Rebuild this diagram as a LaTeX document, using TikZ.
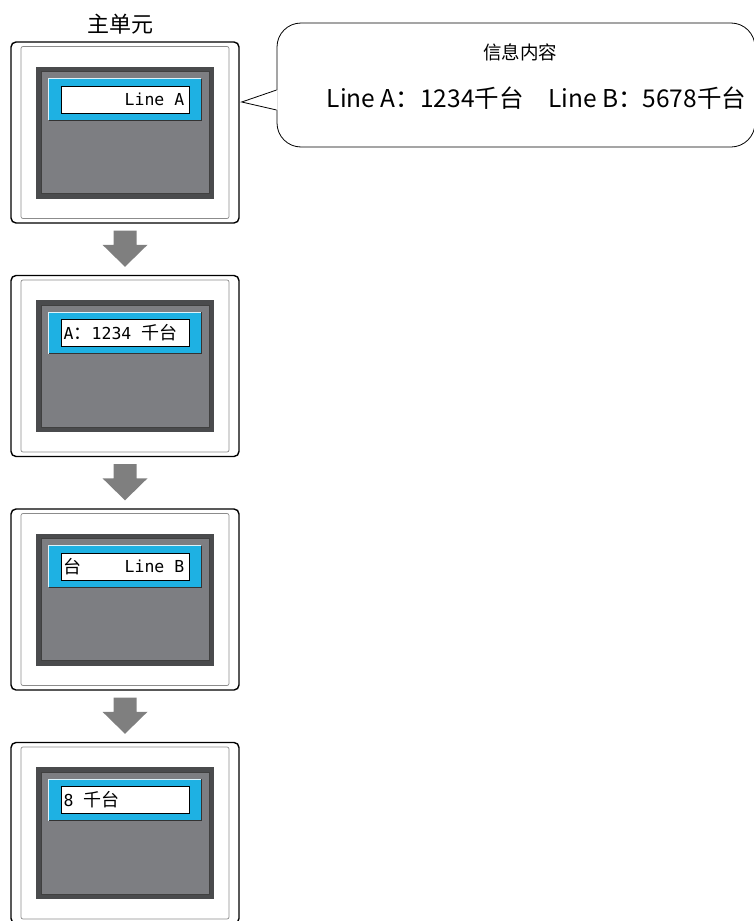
\documentclass[tikz,border=0pt]{standalone}
\usepackage{fontspec}
\setmainfont{Noto Sans CJK SC}
\newfontfamily\cjk{Noto Sans CJK SC}
\newfontfamily\lcdmono{DejaVu Sans Mono}
\usetikzlibrary{calc}
\definecolor{bezel-dark}{HTML}{4A4B4D}
\definecolor{screen-gray}{HTML}{7D7E82}
\definecolor{lcd-blue}{HTML}{1EB1E3}
\definecolor{arrow-gray}{HTML}{7F7F7F}
\definecolor{trim-gray}{HTML}{8C8C8C}

\tikzset{
  unitframe/.style={draw, line width=1.4pt, fill=white, rounded corners=5pt,
    minimum width=228pt, minimum height=181pt, inner sep=0pt},
  bezel/.style={draw=trim-gray, line width=0.7pt, rounded corners=2pt,
    minimum width=208pt, minimum height=172pt, inner sep=0pt},
  screen/.style={fill=bezel-dark, minimum width=178pt, minimum height=132pt, inner sep=0pt},
  screenface/.style={fill=screen-gray, draw=black!75, line width=0.7pt,
    minimum width=168pt, minimum height=122pt, inner sep=0pt},
  lcdbar/.style={fill=lcd-blue, minimum width=152pt, minimum height=41pt, inner sep=0pt},
  lcdbox/.style={fill=white, draw=black, line width=1pt,
    minimum width=128pt, minimum height=27pt, inner sep=0pt},
  lcdtext/.style={inner sep=0pt, font=\lcdmono\fontsize{16.5}{16.5}\selectfont},
  downarrow/.style={fill=arrow-gray},
}
\newcommand{\lcdcjk}[1]{{\cjk\fontsize{18}{18}\selectfont #1}}

\begin{document}
\begin{tikzpicture}[x=1pt, y=-1pt]
  \useasboundingbox (0,0) rectangle (753,921);

  % main unit, first state
  \node[font=\fontsize{22}{22}\selectfont] (title) at (120,24) {主单元};
  \node[unitframe] (u1) at (125,132.5) {};
  \node[bezel] (z1) at (u1.center) {};
  \node[screen] (s1) at (u1.center) {};
  \node[screenface] (f1) at (u1.center) {};
  \node[lcdbar] (b1) at ($(u1.center)+(0,-33)$) {};
  \node[lcdbox] (w1) at (b1.center) {};
  \node[lcdtext, anchor=east] (t1) at ($(w1.east)+(-5,0)$) {Line A};

  \node[unitframe] (u2) at (125,366) {};
  \node[bezel] (z2) at (u2.center) {};
  \node[screen] (s2) at (u2.center) {};
  \node[screenface] (f2) at (u2.center) {};
  \node[lcdbar] (b2) at ($(u2.center)+(0,-33)$) {};
  \node[lcdbox] (w2) at (b2.center) {};
  \node[lcdtext, anchor=west] (t2) at ($(w2.west)+(3,0)$) {A\lcdcjk{：}1234 \lcdcjk{千台}};

  \node[unitframe] (u3) at (125,599.5) {};
  \node[bezel] (z3) at (u3.center) {};
  \node[screen] (s3) at (u3.center) {};
  \node[screenface] (f3) at (u3.center) {};
  \node[lcdbar] (b3) at ($(u3.center)+(0,-33)$) {};
  \node[lcdbox] (w3) at (b3.center) {};
  \node[lcdtext, anchor=west] (t3a) at ($(w3.west)+(3,0)$) {\lcdcjk{台}};
  \node[lcdtext, anchor=east] (t3b) at ($(w3.east)+(-5,0)$) {Line B};

  \node[unitframe] (u4) at (125,833) {};
  \node[bezel] (z4) at (u4.center) {};
  \node[screen] (s4) at (u4.center) {};
  \node[screenface] (f4) at (u4.center) {};
  \node[lcdbar] (b4) at ($(u4.center)+(0,-33)$) {};
  \node[lcdbox] (w4) at (b4.center) {};
  \node[lcdtext, anchor=west] (t4) at ($(w4.west)+(3,0)$) {8 \lcdcjk{千台}};

  % bevel on the blue bars
  \foreach \b in {b1,b2,b3,b4} {
    \draw[white!85!lcd-blue, line width=1pt] (\b.south west) |- (\b.north east);
    \draw[black!80, line width=1.2pt] (\b.south west) -| (\b.north east);
  }

  % block arrows between the states
  \foreach \a/\b in {u1/u2, u2/u3, u3/u4} {
    \fill[downarrow] ($(\a.south)+(-11.5,7)$) -- ($(\a.south)+(11.5,7)$)
      -- ($(\b.north)+(11.5,-30)$) -- ($(\b.north)+(22.5,-30)$)
      -- ($(\b.north)+(0,-8)$) -- ($(\b.north)+(-22.5,-30)$)
      -- ($(\b.north)+(-11.5,-30)$) -- cycle;
  }

  % message callout
  \node[draw, line width=0.8pt, rounded corners=24pt, minimum width=478pt,
    minimum height=124pt, inner sep=0pt] (msg) at (516,85) {};
  \coordinate (tip) at ($(u1.east)+(2,-30.5)$);
  \fill[white] ($(msg.west)+(-1,5)$) -- (tip) -- ($(msg.west)+(-1,25)$)
    -- ($(msg.west)+(1,25)$) -- ($(msg.west)+(1,5)$) -- cycle;
  \draw[line width=0.8pt, line join=miter] ($(msg.west)+(0,5)$) -- (tip) -- ($(msg.west)+(0,25)$);
  \node[font=\fontsize{18.5}{18.5}\selectfont] (msgtitle) at (520,52) {信息内容};
  \node[font=\fontsize{24.5}{24.5}\selectfont] (msgtext) at (536.5,98)
    {Line A：1234千台　Line B：5678千台};
\end{tikzpicture}
\end{document}
